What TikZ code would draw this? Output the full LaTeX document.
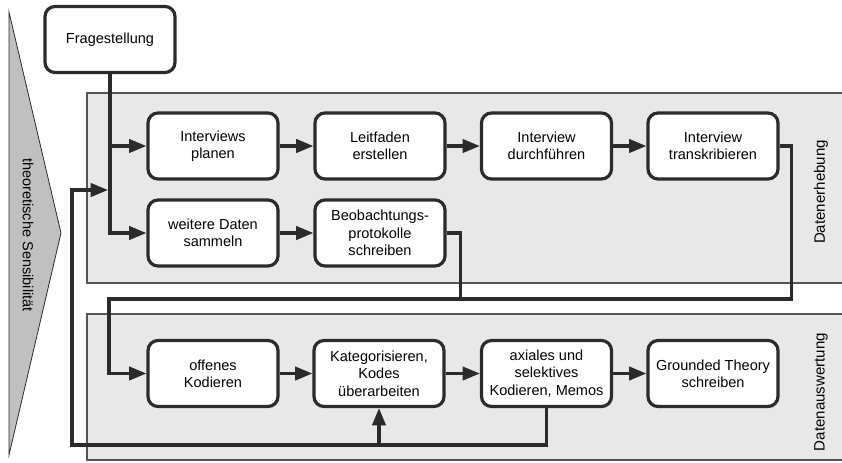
\documentclass[tikz,border=0pt]{standalone}
\usepackage{fontspec}
\setmainfont{Liberation Sans}
\usetikzlibrary{arrows.meta}
\definecolor{ink}{HTML}{2B2B2B}
\definecolor{panelfill}{HTML}{E8E8E8}
\definecolor{panelline}{HTML}{555555}
\definecolor{wedge}{HTML}{C0C0C0}
\begin{document}
\begin{tikzpicture}[x=0.75pt,y=-0.75pt,
  every node/.style={font=\fontsize{10.9}{13}\selectfont, text=black},
  procbox/.style={draw=ink, fill=white, line width=2.4pt, rounded corners=7.5pt,
    minimum width=97.5pt, minimum height=49.5pt, align=center, inner sep=2pt},
  conn/.style={draw=ink, line width=2.4pt, -{Triangle[length=13pt,width=10pt]}},
  plain/.style={draw=ink, line width=2.4pt},
  panel/.style={draw=panelline, fill=panelfill, line width=0.8pt},
  sidelabel/.style={rotate=90, font=\fontsize{11.3}{13}\selectfont}]
\useasboundingbox (0,0) rectangle (842,462);
% wedge
\draw[fill=wedge, draw=ink, line width=0.6pt] (9,12) -- (61,233) -- (9,455) -- cycle;
\node[rotate=-90] (sens) at (28,235) {theoretische Sensibilität};
% panels
\draw[panel] (87,93) rectangle (845,283);
\draw[panel] (87,314) rectangle (845,460);
\node[sidelabel] (erh) at (821,192) {Datenerhebung};
\node[sidelabel] (ausw) at (821,392) {Datenauswertung};
% boxes
\node[procbox] (frage) at (110,39.5) {Fragestellung};
\node[procbox] (planen) at (213,146) {Interviews\\planen};
\node[procbox] (leit) at (380,146) {Leitfaden\\erstellen};
\node[procbox] (durch) at (546.5,146) {Interview\\durchführen};
\node[procbox] (trans) at (713,146) {Interview\\transkribieren};
\node[procbox] (weitere) at (213,233) {weitere Daten\\sammeln};
\node[procbox] (beob) at (380,233) {Beobachtungs-\\protokolle\\schreiben};
\node[procbox] (offen) at (213,373.5) {offenes\\Kodieren};
\node[procbox] (kat) at (379,373.5) {Kategorisieren,\\Kodes\\überarbeiten};
\node[procbox] (axial) at (546.5,373.5) {axiales und\\selektives\\Kodieren, Memos};
\node[procbox] (gt) at (713,373.5) {Grounded Theory\\schreiben};
% junction coordinates
\coordinate (j) at (109,299);
\coordinate (fbL) at (72,445);
\coordinate (fbin) at (108,190);
% connectors
\draw[conn] (frage.south) |- (weitere.west);
\draw[conn] (frage.south |- planen.west) -- (planen.west);
\draw[conn] (planen) -- (leit);
\draw[conn] (leit) -- (durch);
\draw[conn] (durch) -- (trans);
\draw[conn] (weitere) -- (beob);
\draw[plain] (beob.east) -- ++(14,0) |- (j);
\draw[conn] (trans.east) -- ++(12,0) |- (j) |- (offen.west);
\draw[conn] (offen) -- (kat);
\draw[conn] (kat) -- (axial);
\draw[conn] (axial) -- (gt);
\draw[conn] (axial.south) |- (fbL) |- (fbin);
\draw[conn] (kat.south |- fbL) -- (kat.south);
\end{tikzpicture}
\end{document}
